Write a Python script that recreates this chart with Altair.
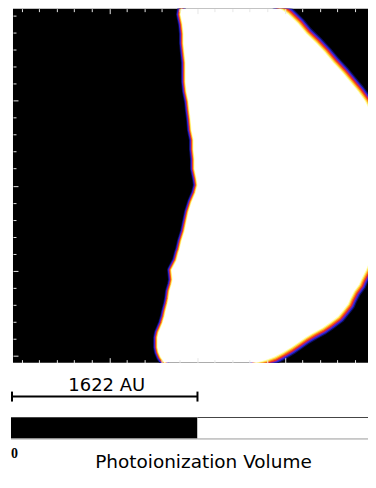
import altair as alt
import pandas as pd

# ---- photoionized region boundaries (image rows / columns)
rows = [4, 10, 20, 30, 40, 50, 60, 70, 80, 90, 100, 110, 118, 130, 140, 150, 160, 170, 180, 187,
        195, 205, 215, 225, 235, 245, 254, 257, 265, 275, 285, 290, 297, 305, 310, 318, 323, 330,
        335, 340, 345, 350, 355, 360, 365, 368, 371]
left_edge = [181, 180, 182, 183, 183, 184, 185, 185, 185, 186, 188, 189, 190, 191, 193, 193, 194,
             194, 196, 197, 195, 191, 188, 186, 184, 181, 179, 178, 176, 171, 172, 171, 169, 168,
             167, 165, 164, 162, 160, 158, 157, 157, 157, 158, 160, 162, 164]
right_edge = [280, 288, 298, 306, 316, 325, 333, 342, 350, 358, 365, 370, 376, 376, 376, 376, 376,
              376, 376, 376, 376, 376, 376, 376, 376, 376, 376, 374, 370, 366, 361, 359, 354, 350,
              348, 342, 338, 329, 322, 313, 305, 298, 291, 283, 274, 266, 256]

# ---- tick positions
x_major = [108.6, 196.6, 284.6, 372.6]
x_minor = [20.6, 38.2, 55.8, 73.4, 91.0, 126.2, 143.8, 161.4, 179.0, 214.2, 231.8, 249.4, 267.0,
           302.2, 319.8, 337.4, 355.0]
y_major = [99.5, 187.5, 275.5, 363.5]
y_minor = [11.5, 29.1, 46.7, 64.3, 81.9, 117.1, 134.7, 152.3, 169.9, 205.1, 222.7, 240.3, 257.9,
           293.1, 310.7, 328.3, 345.9]

# ---- scale bar and colorbar
scalebar_start = [11]
scalebar_end = [197]
scalebar_label = ["1622 AU"]
cbar_levels = [0, 1]
cbar_start = [10, 197]
cbar_end = [197, 376]
cbar_tick_labels = ["0"]
cbar_tick_pos = [10]
cbar_title = ["Photoionization Volume"]
cbar_title_pos = [203]

# colour fringe (CMRmap-like edge), outermost first: colour, left width, right width
bands = [("#0d0d55", 9, 15), ("#2323d8", 7.5, 12.8), ("#7a24b4", 6, 10.6), ("#e52c2c", 4.8, 8.6),
         ("#ff7b12", 3.6, 6.4), ("#ffd43a", 2.4, 4.2), ("#ffffa8", 1.2, 2)]

PLOT_W, PLOT_H = 364, 355
GUARD = 12        # fixed, known overhang so the page origin does not depend on stroke bounds
RIGHT_CROP = 8    # the window is 376px wide: keep the page from overflowing it

X_DOMAIN = [12, 376]
Y_DOMAIN = [4, 371]
TICK = "#e6e6e6"

region = pd.DataFrame({"row": rows, "left": left_edge, "right": right_edge})
left_df = pd.DataFrame({"row": rows, "x": left_edge})
right_df = pd.DataFrame({"row": rows, "x": right_edge})


def xs():
    return alt.Scale(domain=X_DOMAIN, nice=False, zero=False)


def ys():
    return alt.Scale(domain=Y_DOMAIN, nice=False, zero=False, reverse=True)


def ax(orient, values, size):
    return alt.Axis(orient=orient, values=values, tickSize=size, offset=-size, labels=False,
                    domain=False, grid=False, tickColor=TICK, tickWidth=1, title=None, zindex=1)


axis_pairs = [
    (ax("bottom", x_major, 5), ax("left", y_major, 5)),
    (ax("top", x_major, 5), ax("right", y_major, 5)),
    (ax("bottom", x_minor, 3), ax("left", y_minor, 3)),
    (ax("top", x_minor, 3), ax("right", y_minor, 3)),
]
extra_axes = list(axis_pairs[1:])

layers = []
for col, wl, wr in bands:
    for df, w in ((left_df, wl), (right_df, wr)):
        if extra_axes:
            xa, ya = extra_axes.pop(0)
        else:
            xa, ya = None, None
        layers.append(
            alt.Chart(df).mark_line(color=col, strokeWidth=w, clip=True, strokeCap="round",
                                    strokeJoin="round").encode(
                x=alt.X("x:Q", scale=xs(), axis=xa),
                y=alt.Y("row:Q", scale=ys(), axis=ya),
                order=alt.Order("row:Q"),
            )
        )

area = alt.Chart(region).mark_area(orient="horizontal", color="white", clip=True).encode(
    y=alt.Y("row:Q", scale=ys(), axis=axis_pairs[0][1]),
    x=alt.X("left:Q", scale=xs(), axis=axis_pairs[0][0]),
    x2="right:Q",
)
layers.append(area)

# invisible layout guard (fixed overhang above and to the right of the image)
guard = alt.Chart(pd.DataFrame({"g": [0]})).mark_rect(opacity=0).encode(
    x=alt.value(0), x2=alt.value(PLOT_W + GUARD), y=alt.value(-GUARD), y2=alt.value(0)
)
layers.append(guard)

panel1 = alt.layer(*layers).resolve_axis(x="independent", y="independent").properties(
    width=PLOT_W, height=PLOT_H, view=alt.ViewBackground(fill="black", stroke=None)
)

# ---- lower panel: scale bar + colorbar
bar_df = pd.DataFrame({"start": scalebar_start, "end": scalebar_end, "label": scalebar_label})
bar = alt.Chart(bar_df).mark_rule(color="black", strokeWidth=2).encode(
    x=alt.X("start:Q", scale=xs(), axis=None), x2="end:Q", y=alt.value(34)
)
caps = alt.Chart(bar_df).transform_fold(["start", "end"], as_=["k", "pos"]).mark_rule(
    color="black", strokeWidth=2).encode(
    x=alt.X("pos:Q", scale=xs(), axis=None), y=alt.value(29), y2=alt.value(39)
)
bar_label = alt.Chart(bar_df).transform_calculate(mid="(datum.start + datum.end) / 2").mark_text(
    font="DejaVu Sans", fontSize=18, baseline="alphabetic", align="center", dx=2, color="black"
).encode(x=alt.X("mid:Q", scale=xs(), axis=None), y=alt.value(28), text="label:N")

cb_df = pd.DataFrame({"level": cbar_levels, "start": cbar_start, "end": cbar_end})
cbar = alt.Chart(cb_df).mark_rect().encode(
    x=alt.X("start:Q", scale=xs(), axis=None), x2="end:Q",
    y=alt.value(55.5), y2=alt.value(76),
    fill=alt.Fill("level:O", scale=alt.Scale(domain=cbar_levels, range=["black", "white"]), legend=None),
)
cb_top = alt.Chart(cb_df).mark_rule(color="#444444", strokeWidth=1).encode(
    x=alt.X("start:Q", scale=xs(), axis=None), x2="end:Q", y=alt.value(55)
)
cb_bot = alt.Chart(cb_df).mark_rule(color="#9a9a9a", strokeWidth=1).encode(
    x=alt.X("start:Q", scale=xs(), axis=None), x2="end:Q", y=alt.value(76.5)
)
cb_ticks = alt.Chart(pd.DataFrame({"pos": cbar_tick_pos, "t": cbar_tick_labels})).mark_text(
    font="Liberation Serif", fontWeight="bold", fontSize=14, align="left", baseline="alphabetic", color="black"
).encode(x=alt.X("pos:Q", scale=xs(), axis=None), y=alt.value(95.5), text="t:N")
cb_title = alt.Chart(pd.DataFrame({"pos": cbar_title_pos, "t": cbar_title})).mark_text(
    font="DejaVu Sans", fontSize=18.5, align="center", baseline="alphabetic", color="black"
).encode(x=alt.X("pos:Q", scale=xs(), axis=None), y=alt.value(106), text="t:N")

panel2 = alt.layer(bar, caps, bar_label, cbar, cb_top, cb_bot, cb_ticks, cb_title).properties(
    width=PLOT_W, height=106
)

chart = alt.vconcat(panel1, panel2, spacing=0, bounds="flush").properties(
    padding={"left": 2, "top": -GUARD, "right": -(GUARD + RIGHT_CROP), "bottom": 0}
).configure_view(stroke=None)

chart.save("out.html", embed_options={"renderer": "svg", "actions": False})
